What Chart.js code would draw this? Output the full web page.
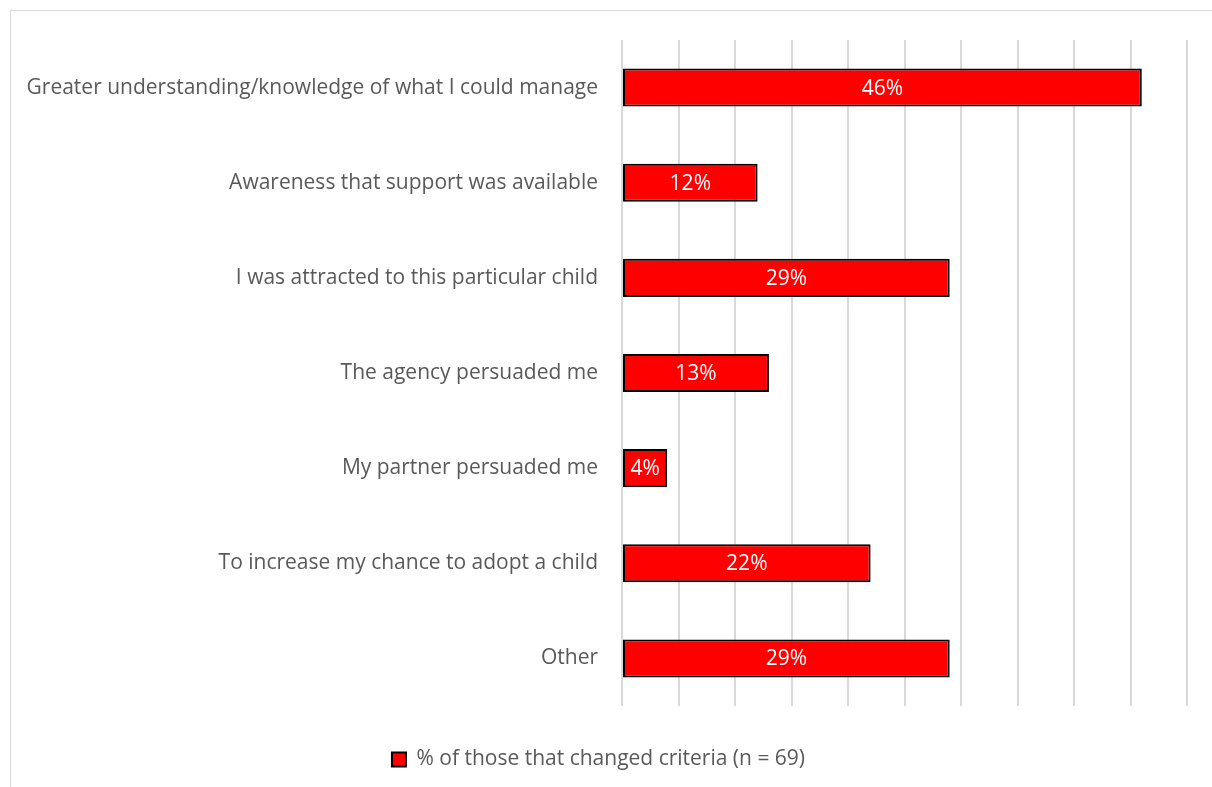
<!DOCTYPE html>
<html>
<head>
<meta charset="utf-8">
<script src="https://cdn.jsdelivr.net/npm/chart.js@4"></script>
<style>
  html, body { margin: 0; padding: 0; background: #fff; }
  body { width: 1212px; height: 787px; overflow: hidden; position: relative; }
  .frame {
    position: absolute; left: 10px; top: 10px;
    width: 1220px; height: 800px;
    border: 1px solid #d9d9d9; box-sizing: border-box;
  }
  .wrap { position: absolute; left: 0; top: 0; width: 1212px; height: 787px; }
</style>
</head>
<body>
<div class="frame"></div>
<div class="wrap"><canvas id="chart"></canvas></div>
<script>
const categories = [
  'Greater understanding/knowledge of what I could manage',
  'Awareness that support was available',
  'I was attracted to this particular child',
  'The agency persuaded me',
  'My partner persuaded me',
  'To increase my chance to adopt a child',
  'Other'
];
const percentChanged = [46, 12, 29, 13, 4, 22, 29];
const seriesName = '% of those that changed criteria (n = 69)';

const FONT = "'Open Sans', 'Noto Sans', sans-serif";

// value labels in the middle of each bar
const barLabels = {
  id: 'barLabels',
  afterDatasetsDraw(chart) {
    const ctx = chart.ctx;
    const meta = chart.getDatasetMeta(0);
    ctx.save();
    ctx.fillStyle = '#ffffff';
    ctx.font = '21px ' + FONT;
    ctx.textAlign = 'center';
    ctx.textBaseline = 'middle';
    meta.data.forEach((bar, i) => {
      const v = chart.data.datasets[0].data[i];
      ctx.fillText(v + '%', (bar.x + bar.base) / 2, bar.y + 1);
    });
    ctx.restore();
  }
};

// fixed height for the legend strip under the plot
const legendHeight = {
  id: 'legendHeight',
  afterInit(chart) {
    const legend = chart.legend;
    const fit = legend.fit;
    legend.fit = function () {
      fit.call(this);
      this.height = 81;
    };
  }
};

new Chart(document.getElementById('chart'), {
  type: 'bar',
  data: {
    labels: categories,
    datasets: [{
      label: seriesName,
      data: percentChanged,
      backgroundColor: '#ff0000',
      borderColor: '#000000',
      borderWidth: 2,
      borderSkipped: false,
      categoryPercentage: 1,
      barPercentage: 0.4
    }]
  },
  options: {
    indexAxis: 'y',
    responsive: true,
    maintainAspectRatio: false,
    animation: false,
    layout: { padding: { left: 10, right: 25, top: 40, bottom: 0 } },
    scales: {
      x: {
        min: 0,
        max: 50,
        ticks: { display: false, stepSize: 5 },
        grid: { color: '#d9d9d9', lineWidth: 2, drawTicks: false },
        border: { display: false }
      },
      y: {
        ticks: {
          color: '#595959',
          font: { family: FONT, size: 21 },
          padding: 24
        },
        grid: { display: false, drawTicks: false },
        border: { display: false },
        afterFit(scale) { scale.width = 612; }
      }
    },
    plugins: {
      legend: {
        position: 'bottom',
        labels: {
          color: '#595959',
          font: { family: FONT, size: 21 },
          boxWidth: 14,
          boxHeight: 14,
          padding: 43
        }
      },
      tooltip: { enabled: false }
    }
  },
  plugins: [barLabels, legendHeight]
});
</script>
</body>
</html>
